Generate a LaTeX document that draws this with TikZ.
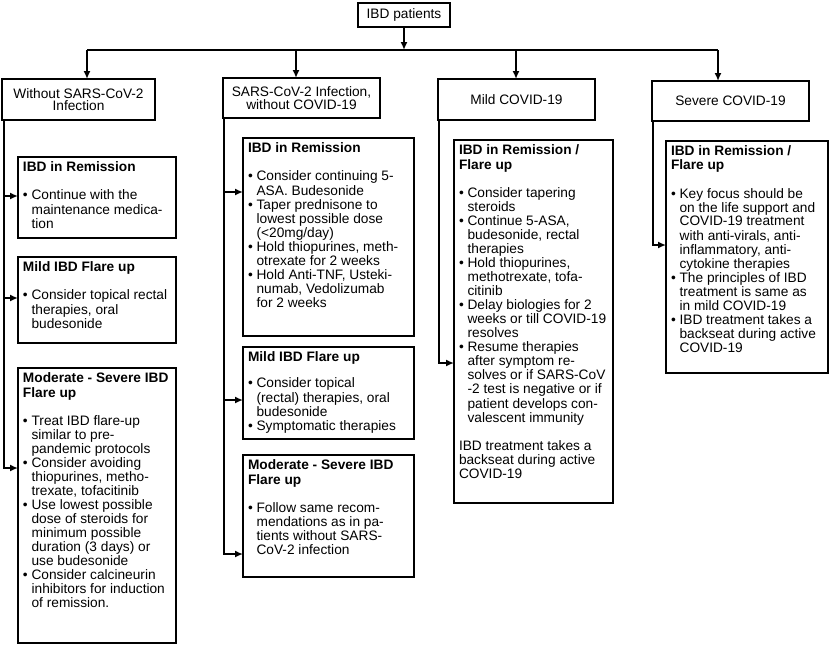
\documentclass[tikz,border=0pt]{standalone}
\usepackage{fontspec}
\setmainfont{Liberation Sans}
\usetikzlibrary{arrows.meta, positioning}

\newcommand{\bul}{\textbullet\ }
\newcommand{\ind}{\hphantom{\textbullet\ }}
\newcommand{\boxtext}[3]{\parbox[c][#2][t]{#1}{\begin{tabular}{@{}l@{}}#3\end{tabular}}}

\begin{document}
\begin{tikzpicture}[x=1pt, y=-1pt, >={Latex[length=8pt,width=7pt]},
    every node/.style={font=\fontsize{13.7}{13.8}\selectfont, outer sep=0pt},
    head/.style={draw, rectangle, line width=2.8pt, align=center, inner sep=2pt, anchor=north west, font=\fontsize{13.7}{12.5}\selectfont},
    sub/.style={draw, rectangle, line width=2.4pt, inner xsep=5pt, inner ysep=5pt, anchor=north west},
    link/.style={line width=2.2pt}]

    \useasboundingbox (0,0) rectangle (830,648);

	% Define nodes
	\node (top) [head, minimum width=92pt, minimum height=24pt] at (358,3) {IBD patients};
	\node (h1) [head, minimum width=153pt, minimum height=41pt] at (2,79) {Without SARS-CoV-2\\Infection};
	\node (h2) [head, minimum width=157pt, minimum height=40pt] at (223,78) {SARS-CoV-2 Infection,\\without COVID-19};
	\node (h3) [head, minimum width=157pt, minimum height=41pt] at (438,79) {Mild COVID-19};
	\node (h4) [head, minimum width=157pt, minimum height=40pt] at (652,81) {Severe COVID-19};

	\coordinate (b1) at (87,50);
	\coordinate (b2) at (296,50);
	\coordinate (b3) at (516,50);
	\coordinate (b4) at (718,50);

	% Without SARS-CoV-2
	\node (rem1) [sub] at (18,157) {\boxtext{148pt}{71pt}{%
	    \textbf{IBD in Remission}\\[14pt]
	    \bul Continue with the\\
	    \ind maintenance medica-\\
	    \ind tion}};
	\node (mild1) [sub, below=19pt of rem1.south west, anchor=north west] {\boxtext{148pt}{76pt}{%
	    \textbf{Mild IBD Flare up}\\[14pt]
	    \bul Consider topical rectal\\
	    \ind therapies, oral\\
	    \ind budesonide}};
	\node (mod1) [sub, below=25pt of mild1.south west, anchor=north west] {\boxtext{148pt}{265pt}{%
	    \textbf{Moderate - Severe IBD}\\
	    \textbf{Flare up}\\[14pt]
	    \bul Treat IBD flare-up\\
	    \ind similar to pre-\\
	    \ind pandemic protocols\\
	    \bul Consider avoiding\\
	    \ind thiopurines, metho-\\
	    \ind trexate, tofacitinib\\
	    \bul Use lowest possible\\
	    \ind dose of steroids for\\
	    \ind minimum possible\\
	    \ind duration (3 days) or\\
	    \ind use budesonide\\
	    \bul Consider calcineurin\\
	    \ind inhibitors for induction\\
	    \ind of remission.}};

	% SARS-CoV-2 infection
	\node (rem2) [sub] at (243,138) {\boxtext{161pt}{188pt}{%
	    \textbf{IBD in Remission}\\[14pt]
	    \bul Consider continuing 5-\\
	    \ind ASA. Budesonide\\
	    \bul Taper prednisone to\\
	    \ind lowest possible dose\\
	    \ind (<20mg/day)\\
	    \bul Hold thiopurines, meth-\\
	    \ind otrexate for 2 weeks\\
	    \bul Hold Anti-TNF, Usteki-\\
	    \ind numab, Vedolizumab\\
	    \ind for 2 weeks}};
	\node (mild2) [sub, below=11pt of rem2.south west, anchor=north west] {\boxtext{161pt}{82pt}{%
	    \textbf{Mild IBD Flare up}\\[12pt]
	    \bul Consider topical\\
	    \ind (rectal) therapies, oral\\
	    \ind budesonide\\
	    \bul Symptomatic therapies}};
	\node (mod2) [sub, below=16pt of mild2.south west, anchor=north west] {\boxtext{161pt}{112pt}{%
	    \textbf{Moderate - Severe IBD}\\
	    \textbf{Flare up}\\[14pt]
	    \bul Follow same recom-\\
	    \ind mendations as in pa-\\
	    \ind tients without SARS-\\
	    \ind CoV-2 infection}};

	% Mild COVID-19
	\node (sub3) [sub] at (454,140) {\boxtext{149pt}{353pt}{%
	    \textbf{IBD in Remission /}\\
	    \textbf{Flare up}\\[14pt]
	    \bul Consider tapering\\
	    \ind steroids\\
	    \bul Continue 5-ASA,\\
	    \ind budesonide, rectal\\
	    \ind therapies\\
	    \bul Hold thiopurines,\\
	    \ind methotrexate, tofa-\\
	    \ind citinib\\
	    \bul Delay biologies for 2\\
	    \ind weeks or till COVID-19\\
	    \ind resolves\\
	    \bul Resume therapies\\
	    \ind after symptom re-\\
	    \ind solves or if SARS-CoV\\
	    \ind -2 test is negative or if\\
	    \ind patient develops con-\\
	    \ind valescent immunity\\[14pt]
	    IBD treatment takes a\\
	    backseat during active\\
	    COVID-19}};

	% Severe COVID-19
	\node (sub4) [sub] at (666,141) {\boxtext{152pt}{222pt}{%
	    \textbf{IBD in Remission /}\\
	    \textbf{Flare up}\\[14pt]
	    \bul Key focus should be\\
	    \ind on the life support and\\
	    \ind COVID-19 treatment\\
	    \ind with anti-virals, anti-\\
	    \ind inflammatory, anti-\\
	    \ind cytokine therapies\\
	    \bul The principles of IBD\\
	    \ind treatment is same as\\
	    \ind in mild COVID-19\\
	    \bul IBD treatment takes a\\
	    \ind backseat during active\\
	    \ind COVID-19}};

	% Draw arrows
	\draw[link, ->] (top) -- (top.south |- b1);
	\draw[link] (b1) -- (b4);
	\draw[link, ->] (b1) -- (b1 |- h1.north);
	\draw[link, ->] (b2) -- (b2 |- h2.north);
	\draw[link, ->] (b3) -- (b3 |- h3.north);
	\draw[link, ->] (b4) -- (b4 |- h4.north);

	\draw[link, ->] ([xshift=2pt]h1.south west) |- ([yshift=-39pt]rem1.north west);
	\draw[link, ->] ([xshift=2pt]h1.south west) |- ([yshift=-41pt]mild1.north west);
	\draw[link, ->] ([xshift=2pt]h1.south west) |- ([yshift=-100pt]mod1.north west);
	\draw[link, ->] ([xshift=1pt]h2.south west) |- ([yshift=-54pt]rem2.north west);
	\draw[link, ->] ([xshift=1pt]h2.south west) |- ([yshift=-53pt]mild2.north west);
	\draw[link, ->] ([xshift=1pt]h2.south west) |- ([yshift=-99pt]mod2.north west);
	\draw[link, ->] ([xshift=1pt]h3.south west) |- ([yshift=-223pt]sub3.north west);
	\draw[link, ->] ([xshift=1pt]h4.south west) |- ([yshift=-104pt]sub4.north west);

\end{tikzpicture}
\end{document}
